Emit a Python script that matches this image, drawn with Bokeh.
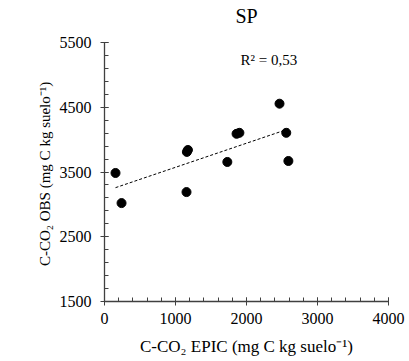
import numpy as np
from bokeh.plotting import figure
from bokeh.models import Range1d, Label, FixedTicker, Title
from bokeh.embed import file_html
from bokeh.resources import INLINE

# data
epic = [155, 240, 1160, 1175, 1155, 1730, 1860, 1900, 2465, 2560, 2590]
obs = [3485, 3020, 3810, 3840, 3190, 3655, 4090, 4105, 4555, 4105, 3670]
x_ticks = [0, 1000, 2000, 3000, 4000]
y_ticks = [1500, 2500, 3500, 4500, 5500]
r2_text = "R² = 0,53"
title_text = "SP"
x_title = "C-CO₂ EPIC (mg C kg suelo⁻¹)"
y_title = "C-CO₂  OBS (mg C kg suelo⁻¹)"

FONT = "Liberation Serif"
AX = "#404040"

p = figure(width=409, height=361, output_backend="svg", toolbar_location=None,
           x_range=Range1d(0, 4000), y_range=Range1d(1500, 5500),
           min_border_left=104, min_border_right=21, min_border_top=42, min_border_bottom=60,
           title=title_text)
p.outline_line_color = None
p.xgrid.visible = False
p.ygrid.visible = False
p.title.align = "center"
p.title.text_font = FONT
p.title.text_font_size = "20px"
p.title.text_font_style = "normal"
p.title.text_color = "black"
p.title.standoff = 0
# empty spacer between the title and the frame
p.add_layout(Title(text=" ", text_font_size="12px", standoff=0), "above")

for ax in (p.xaxis[0], p.yaxis[0]):
    ax.axis_line_color = AX
    ax.axis_line_width = 1.3
    ax.major_tick_line_color = AX
    ax.minor_tick_line_color = AX
    ax.major_tick_in = 4
    ax.major_tick_out = 4
    ax.minor_tick_in = 4
    ax.minor_tick_out = 0
    ax.major_label_text_font = FONT
    ax.major_label_text_font_size = "16px"
    ax.major_label_text_color = "black"
    ax.axis_label_text_font = FONT
    ax.axis_label_text_font_size = "17px"
    ax.axis_label_text_font_style = "normal"
    ax.axis_label_text_color = "black"

p.xaxis[0].ticker = FixedTicker(ticks=x_ticks, minor_ticks=list(range(0, 4001, 200)))
p.yaxis[0].ticker = FixedTicker(ticks=y_ticks, minor_ticks=list(range(1500, 5501, 200)))
p.xaxis[0].axis_label = x_title
p.xaxis[0].major_label_standoff = 7
p.yaxis[0].major_label_standoff = 9
p.xaxis[0].axis_label_standoff = 10

# y-axis title, shifted a little above the frame centre as in the reference
p.add_layout(Title(text=y_title, align="center", offset=14, standoff=8,
                   text_font=FONT, text_font_size="15px", text_font_style="normal",
                   text_color="black"), "left")

# linear trend
slope, intercept = np.polyfit(epic, obs, 1)
xl = np.array([min(epic), max(epic)])
p.line(xl, slope * xl + intercept, line_color="black", line_dash="3 2", line_width=1)

p.scatter(epic, obs, size=9, fill_color="black", line_color="black")

p.add_layout(Label(x=1915, y=5225, text=r2_text, text_baseline="middle",
                   text_font=FONT, text_font_size="15px", text_color="black"))

open("out.html", "w").write(file_html(p, INLINE))
